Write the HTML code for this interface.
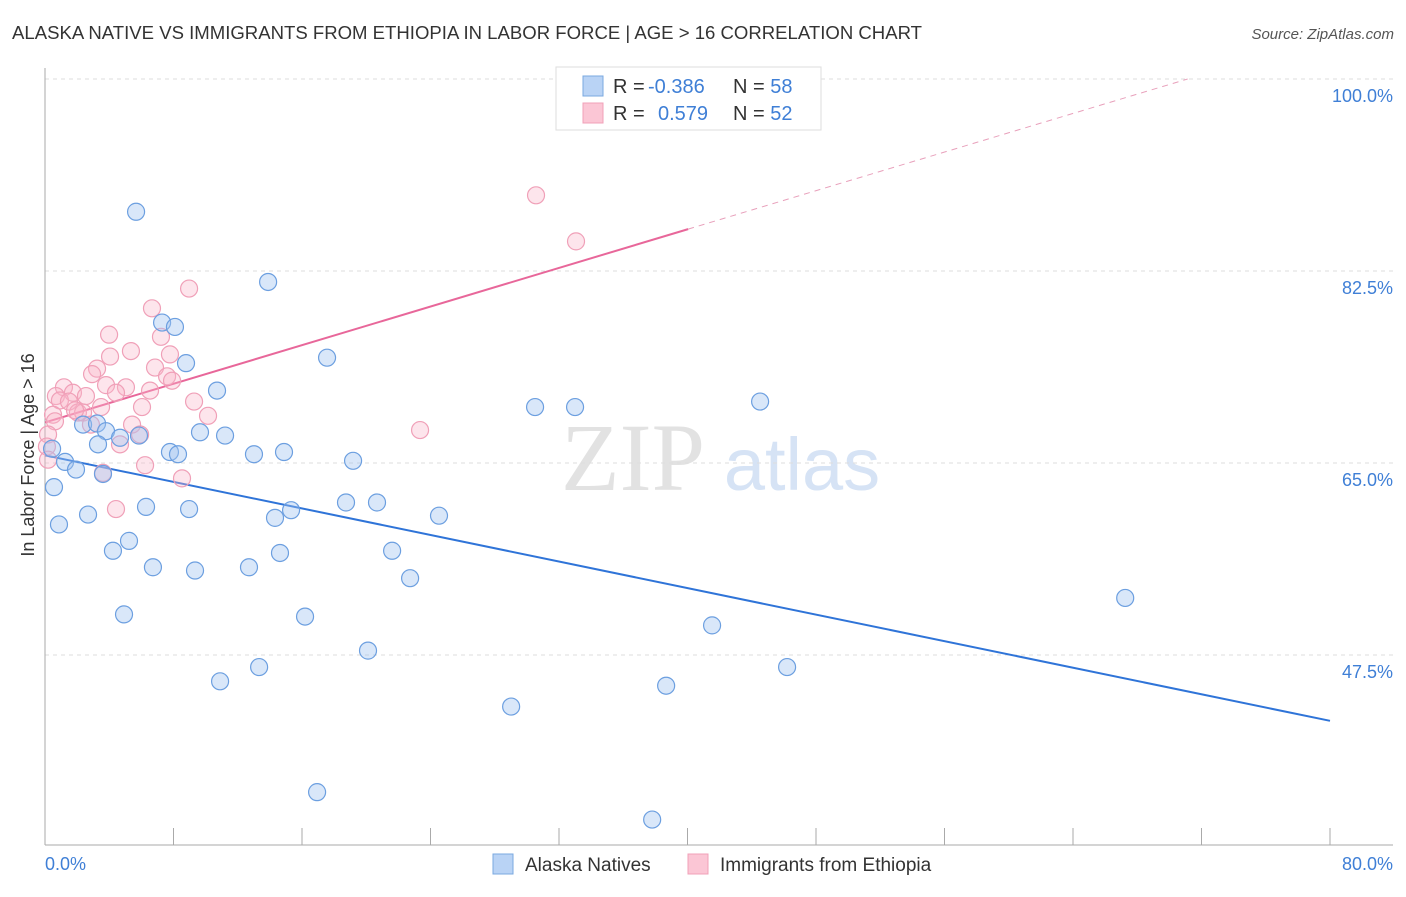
<!DOCTYPE html>
<html><head><meta charset="utf-8"><style>
body{margin:0;background:#fff;font-family:"Liberation Sans",sans-serif}
</style></head><body>
<svg id="c" width="1406" height="892" xmlns="http://www.w3.org/2000/svg" font-family="Liberation Sans, sans-serif">
<text x="12" y="39" font-size="18" fill="#333" textLength="910" lengthAdjust="spacingAndGlyphs">ALASKA NATIVE VS IMMIGRANTS FROM ETHIOPIA IN LABOR FORCE | AGE &gt; 16 CORRELATION CHART</text>
<text x="1394" y="39" font-size="15" fill="#555" font-style="italic" text-anchor="end">Source: ZipAtlas.com</text>
<text x="633" y="490" font-size="96" fill="#e2e2e2" font-family="Liberation Serif, serif" text-anchor="middle">ZIP</text>
<text x="802" y="490" font-size="74" fill="#d6e3f5" text-anchor="middle">atlas</text>
<g id="grid"></g><g id="axes"></g><g id="trend"></g><g id="pts"></g>
<text transform="translate(34,455) rotate(-90)" font-size="18" fill="#333" text-anchor="middle">In Labor Force | Age &gt; 16</text>
<text x="45" y="870" font-size="18" fill="#3f7fd6">0.0%</text>
<text x="1393" y="870" font-size="18" fill="#3f7fd6" text-anchor="end">80.0%</text>
<g>
<rect x="556" y="67" width="265" height="63" fill="#fff" stroke="#ddd"/>
<rect x="583" y="76" width="20" height="20" fill="#b9d3f5" stroke="#7aa8e0"/>
<rect x="583" y="103" width="20" height="20" fill="#fbc6d5" stroke="#f0a0b8"/>
<text x="613" y="93" font-size="20" fill="#333">R = <tspan x="648" fill="#3f7fd6">-0.386</tspan><tspan x="733">N = </tspan><tspan fill="#3f7fd6">58</tspan></text>
<text x="613" y="120" font-size="20" fill="#333">R = <tspan x="658" fill="#3f7fd6">0.579</tspan><tspan x="733">N = </tspan><tspan fill="#3f7fd6">52</tspan></text>
</g>
<g>
<rect x="493" y="854" width="20" height="20" fill="#b9d3f5" stroke="#7aa8e0"/>
<text x="525" y="871" font-size="19" fill="#333">Alaska Natives</text>
<rect x="688" y="854" width="20" height="20" fill="#fbc6d5" stroke="#f0a0b8"/>
<text x="720" y="871" font-size="19" fill="#333">Immigrants from Ethiopia</text>
</g>
</svg>
<script>
const yTicks=[100,82.5,65,47.5];
const yTickLabels=["100.0%","82.5%","65.0%","47.5%"];
const xTicks=[0,8,16,24,32,40,48,56,64,72,80];
const blueX=[5.67,13.89,7.29,8.09,8.78,17.56,10.71,30.51,33.0,44.52,0.44,1.25,1.93,2.37,3.24,3.80,3.30,4.67,5.85,9.65,11.21,7.78,8.28,13.01,14.88,19.18,3.61,0.56,0.87,2.68,6.29,8.97,14.32,15.32,18.74,20.67,24.53,4.23,5.23,6.72,9.34,12.70,14.63,21.61,22.73,4.92,16.19,67.25,41.53,20.11,13.33,10.90,46.20,38.67,29.02,16.94,37.80];
const blueY=[87.9,81.5,77.8,77.4,74.1,74.6,71.6,70.1,70.1,70.6,66.3,65.1,64.4,68.5,68.6,67.9,66.7,67.3,67.5,67.8,67.5,66.0,65.8,65.8,66.0,65.2,64.0,62.8,59.4,60.3,61.0,60.8,60.0,60.7,61.4,61.4,60.2,57.0,57.9,55.5,55.2,55.5,56.8,57.0,54.5,51.2,51.0,52.7,50.2,47.9,46.4,45.1,46.4,44.7,42.8,35.0,32.5];
const pinkX=[30.57,33.06,8.97,6.66,3.99,5.35,7.22,4.05,7.78,3.24,2.93,6.85,7.60,7.91,6.54,5.04,3.80,1.18,1.74,0.68,0.93,1.49,2.55,4.42,3.49,6.04,9.28,2.05,2.37,0.50,0.62,2.86,5.42,0.19,0.12,4.67,10.15,23.35,6.23,8.53,3.61,4.42,0.19,5.92,1.87];
const pinkY=[89.4,85.2,80.9,79.1,76.7,75.2,76.5,74.7,74.9,73.6,73.1,73.7,72.9,72.5,71.6,71.9,72.1,71.9,71.4,71.1,70.7,70.6,71.1,71.4,70.1,70.1,70.6,69.6,69.6,69.4,68.8,68.5,68.5,67.6,66.5,66.7,69.3,68.0,64.8,63.6,64.1,60.8,65.3,67.6,69.8];
const blueTrend=[65.7,41.5]; // y at x=0 and x=80
const pinkTrend=[68.7,0.44]; // intercept, slope
const NS="http://www.w3.org/2000/svg";
const sx=v=>45+v*(1285/80);
const sy=v=>79+(100-v)*(192/17.5);
function mk(t,a,p){const e=document.createElementNS(NS,t);for(const k in a)e.setAttribute(k,a[k]);document.getElementById(p).appendChild(e);return e;}
yTicks.forEach((t,i)=>{
 const l=mk('line',{x1:45,x2:1393,y1:sy(t),y2:sy(t),stroke:'#ddd','stroke-dasharray':'4,4'},'grid');
 
 
 const tx=mk('text',{x:1393,y:sy(t)+23,'font-size':18,fill:'#3f7fd6','text-anchor':'end'},'grid');
 tx.textContent=yTickLabels[i];
 
 
});
const ax=mk('line',{x1:45,x2:1393,y1:845,y2:845,stroke:'#aaa'},'axes');


const ay=mk('line',{x1:45,x2:45,y1:68,y2:845,stroke:'#aaa'},'axes');


xTicks.forEach(t=>{
 const l=mk('line',{x1:sx(t),x2:sx(t),y1:828,y2:845,stroke:'#aaa'},'axes');
 
 
});
const bt=mk('line',{x1:sx(0),y1:sy(blueTrend[0]),x2:sx(80),y2:sy(blueTrend[1]),stroke:'#2f74d8','stroke-width':2},'trend');


const pe=40.04, pEnd=(100-pinkTrend[0])/pinkTrend[1];
const pt=mk('line',{x1:sx(0),y1:sy(pinkTrend[0]),x2:sx(pe),y2:sy(pinkTrend[0]+pinkTrend[1]*pe),stroke:'#e8679a','stroke-width':2},'trend');


const pd=mk('line',{x1:sx(pe),y1:sy(pinkTrend[0]+pinkTrend[1]*pe),x2:sx(pEnd),y2:sy(100),stroke:'#e8a0bb','stroke-width':1,'stroke-dasharray':'6,5'},'trend');


pinkX.forEach((x,i)=>{
 const c=mk('circle',{cx:sx(x),cy:sy(pinkY[i]),r:8.5,fill:'rgba(248,180,200,0.35)',stroke:'#f0a0b8','stroke-width':1.2},'pts');
 
 
});
blueX.forEach((x,i)=>{
 const c=mk('circle',{cx:sx(x),cy:sy(blueY[i]),r:8.5,fill:'rgba(160,196,240,0.4)',stroke:'#6c9fe0','stroke-width':1.2},'pts');
 
 
});
</script>
</body></html>
